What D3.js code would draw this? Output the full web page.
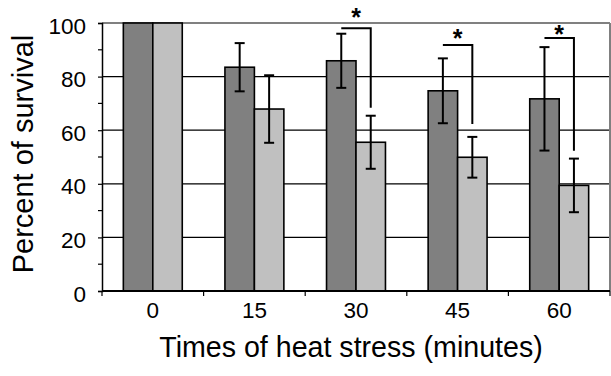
<!DOCTYPE html>
<html>
<head>
<meta charset="utf-8">
<script src="https://cdn.jsdelivr.net/npm/d3@7"></script>
<style>
  body { margin: 0; background: #fff; }
  svg { display: block; font-family: "Liberation Sans", Arial, sans-serif; }
</style>
</head>
<body>
<svg id="chart" width="611" height="376"></svg>
<script>
// data
const categories = ["0", "15", "30", "45", "60"];
const darkValues = [100, 83.5, 85.9, 74.7, 71.7];
const darkErrors = [0, 9, 10.1, 12.1, 19.3];
const lightValues = [100, 67.9, 55.5, 49.9, 39.4];
const lightErrors = [0, 12.6, 9.9, 7.6, 10];
const yTicks = [0, 20, 40, 60, 80, 100];
const yMinorTicks = [10, 30, 50, 70, 90];

// significance brackets (dark bar -> light bar)
const sigCategories = ["30", "45", "60"];
const bracketTop = [98, 91.8, 94.4];
const bracketBottom = [68.4, 62.3, 52.3];
const starLevel = [103.5, 95.5, 97];

const svg = d3.select('#chart');
const plotLeft = 102, plotRight = 610, plotTop = 23, plotBottom = 291;

let y = d3.scaleLinear().domain([0, 100]).range([plotBottom, plotTop]);
let x = d3.scaleBand()
    .domain(categories)
    .range([plotLeft, plotRight])
    .paddingInner(0.42)
    .paddingOuter(0.21);
let xSeries = d3.scaleBand()
    .domain(["dark", "light"])
    .range([0, x.bandwidth()]);

const series = [
    {key: "dark", values: darkValues, errors: darkErrors, color: "#808080"},
    {key: "light", values: lightValues, errors: lightErrors, color: "#c0c0c0"}
];

// gridlines
svg.append("g")
    .selectAll("line")
    .data(yTicks.filter(d => d > 0 && d < 100))
    .join("line")
    .attr("x1", plotLeft).attr("x2", plotRight)
    .attr("y1", d => y(d)).attr("y2", d => y(d))
    .attr("stroke", "#000")
    .attr("stroke-width", 1.2);

// top + right frame (grey)
svg.append("line")
    .attr("x1", plotLeft).attr("x2", plotRight)
    .attr("y1", y(100)).attr("y2", y(100))
    .attr("stroke", "#808080").attr("stroke-width", 2);
svg.append("line")
    .attr("x1", plotRight).attr("x2", plotRight)
    .attr("y1", y(100)).attr("y2", y(0))
    .attr("stroke", "#808080").attr("stroke-width", 2);

// bars
for (let s of series) {
    svg.append("g")
        .selectAll("rect")
        .data(categories)
        .join("rect")
        .attr("x", d => x(d) + xSeries(s.key))
        .attr("width", xSeries.bandwidth())
        .attr("y", (d, i) => y(s.values[i]))
        .attr("height", (d, i) => y(0) - y(s.values[i]))
        .attr("fill", s.color)
        .attr("stroke", "#000")
        .attr("stroke-width", 1.6);
}

// error bars
for (let s of series) {
    let g = svg.append("g").attr("stroke", "#000").attr("stroke-width", 2);
    categories.forEach((c, i) => {
        if (!s.errors[i]) return;
        let cx = x(c) + xSeries(s.key) + xSeries.bandwidth() / 2;
        let hi = y(s.values[i] + s.errors[i]);
        let lo = y(s.values[i] - s.errors[i]);
        g.append("line").attr("x1", cx).attr("x2", cx).attr("y1", hi).attr("y2", lo);
        g.append("line").attr("x1", cx - 5).attr("x2", cx + 5).attr("y1", hi).attr("y2", hi);
        g.append("line").attr("x1", cx - 5).attr("x2", cx + 5).attr("y1", lo).attr("y2", lo);
    });
}

// significance brackets
sigCategories.forEach((c, i) => {
    let x1 = x(c) + xSeries("dark") + xSeries.bandwidth() / 2;
    let x2 = x(c) + xSeries("light") + xSeries.bandwidth() / 2;
    svg.append("path")
        .attr("d", d3.line()([[x1, y(bracketTop[i])], [x2, y(bracketTop[i])], [x2, y(bracketBottom[i])]]))
        .attr("fill", "none")
        .attr("stroke", "#000")
        .attr("stroke-width", 2);
    svg.append("text")
        .attr("x", (x1 + x2) / 2)
        .attr("y", y(starLevel[i]) + 12)
        .attr("text-anchor", "middle")
        .attr("font-size", 25)
        .attr("font-weight", "bold")
        .text("*");
});

// y axis
let yAxis = svg.append("g")
    .attr("transform", `translate(${plotLeft},0)`)
    .call(d3.axisLeft(y).tickValues(yTicks).tickSize(4).tickPadding(12));
yAxis.select(".domain").attr("stroke-width", 1.5);
yAxis.selectAll(".tick line").attr("stroke-width", 1.2);
yAxis.selectAll("text")
    .attr("font-size", 22.5)
    .attr("font-family", "Liberation Sans, Arial, sans-serif")
    .attr("fill", "#000")
    .attr("dy", "0.45em");
svg.append("g")
    .selectAll("line")
    .data(yMinorTicks)
    .join("line")
    .attr("x1", plotLeft - 4).attr("x2", plotLeft)
    .attr("y1", d => y(d)).attr("y2", d => y(d))
    .attr("stroke", "#000").attr("stroke-width", 1.2);

// x axis: line, boundary ticks, labels
svg.append("line")
    .attr("x1", plotLeft).attr("x2", plotRight)
    .attr("y1", plotBottom).attr("y2", plotBottom)
    .attr("stroke", "#000").attr("stroke-width", 2);
svg.append("g")
    .selectAll("line")
    .data(d3.range(categories.length + 1))
    .join("line")
    .attr("x1", d => plotLeft + d * x.step()).attr("x2", d => plotLeft + d * x.step())
    .attr("y1", plotBottom).attr("y2", plotBottom + 5)
    .attr("stroke", "#000").attr("stroke-width", 1.2);
svg.append("g")
    .selectAll("text")
    .data(categories)
    .join("text")
    .attr("x", d => x(d) + x.bandwidth() / 2)
    .attr("y", 318)
    .attr("text-anchor", "middle")
    .attr("font-size", 22.5)
    .text(d => d);

// axis titles
svg.append("text")
    .attr("x", 351)
    .attr("y", 357)
    .attr("text-anchor", "middle")
    .attr("font-size", 28.6)
    .text("Times of heat stress (minutes)");
svg.append("text")
    .attr("transform", "translate(33,154) rotate(-90)")
    .attr("text-anchor", "middle")
    .attr("font-size", 29)
    .text("Percent of survival");
</script>
</body>
</html>
